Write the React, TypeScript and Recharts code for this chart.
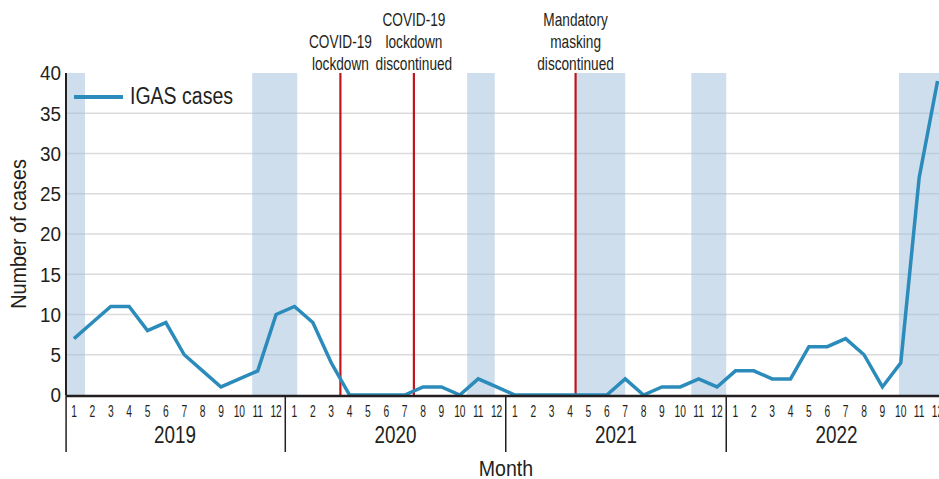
import { LineChart, Line, XAxis, YAxis, CartesianGrid, ReferenceArea, ReferenceLine, Legend } from "recharts";

const FONT = '"Liberation Sans", Arial, sans-serif';
const INK = "#231f20";
const LINE_COLOR = "#2b8bbb";
const EVENT_COLOR = "#c0151d";

const years = ["2019", "2020", "2021", "2022"];
const monthNums = [1, 2, 3, 4, 5, 6, 7, 8, 9, 10, 11, 12];
// IGAS cases per month, Jan 2019 .. Dec 2022
const cases = [
  7, 9, 11, 11, 8, 9, 5, 3, 1, 2, 3, 10,
  11, 9, 4, 0, 0, 0, 0, 1, 1, 0, 2, 1,
  0, 0, 0, 0, 0, 0, 2, 0, 1, 1, 2, 1,
  3, 3, 2, 2, 6, 6, 7, 5, 1, 4, 27, 39,
];
// shaded periods, in month-index units
const shadedStart = [-0.43, 9.7, 21.4, 27.3, 33.6, 44.9];
const shadedEnd = [0.6, 12.15, 22.9, 30.0, 35.5, 47.08];
const eventAt = [14.5, 18.5, 27.3];
const eventText = [
  ["COVID-19", "lockdown"],
  ["COVID-19", "lockdown", "discontinued"],
  ["Mandatory", "masking", "discontinued"],
];
const yTicks = [0, 5, 10, 15, 20, 25, 30, 35, 40];
const gridValues = [5, 10, 15, 20, 25, 30, 35];
const yearTicks = [5.5, 17.5, 29.5, 41.5];
const sepTicks = [-0.43, 11.5, 23.5, 35.5];
const xDomain = [-0.435, 47.08];

const data = cases.map((v, i) => ({ idx: i, cases: v }));
const monthTicks = data.map((d) => d.idx);

// condensed text: the reference uses a narrow Helvetica, so squeeze horizontally
const SText = ({ x, y, sx, size, anchor = "middle", dy, children }: any) => (
  <g transform={`translate(${x},${y}) scale(${sx},1)`}>
    <text x={0} y={0} dy={dy} textAnchor={anchor} fontFamily={FONT} fontSize={size} fill={INK}>{children}</text>
  </g>
);

const MonthTick = ({ x, y, payload }: any) => (
  <SText x={x} y={y} sx={0.64} size={16} dy="0.71em">{monthNums[payload.value % 12]}</SText>
);
const YearTick = ({ x, y, payload }: any) => (
  <SText x={x} y={y} sx={0.82} size={23} dy="0.71em">{years[Math.floor(payload.value / 12)]}</SText>
);
const ValueTick = ({ x, y, payload }: any) => (
  <SText x={x} y={y} sx={0.9} size={21} anchor="end" dy="0.355em">{payload.value}</SText>
);
const SepTick = ({ x, y }: any) => (
  <line x1={x} x2={x} y1={y} y2={y + 57} stroke={INK} strokeWidth={1.5} />
);

const EventLabel = (props: any) => {
  const { viewBox, lines } = props;
  if (!viewBox) return null;
  const base = viewBox.y - 3;
  return (
    <g>
      {lines.map((l: string, i: number) => (
        <SText key={i} x={viewBox.x} y={base - (lines.length - 1 - i) * 22} sx={0.78} size={17.5}>{l}</SText>
      ))}
    </g>
  );
};

const renderLegend = () => (
  <div style={{ display: "flex", alignItems: "center", fontFamily: FONT, fontSize: 23.5, color: INK }}>
    <span style={{ display: "inline-block", width: 49, height: 4, background: LINE_COLOR, marginRight: 7 }} />
    <span style={{ display: "inline-block", transform: "scaleX(0.83)", transformOrigin: "left center", whiteSpace: "nowrap" }}>IGAS cases</span>
  </div>
);

export default function App() {
  return (
    <div style={{ position: "absolute", left: 0, top: 0, width: 939, height: 479, overflow: "hidden", background: "#fff" }}>
      <LineChart width={939} height={479} data={data} margin={{ top: 73, right: 0, left: 0, bottom: 0 }}>
        <CartesianGrid xAxisId="b-month" horizontal vertical={false} horizontalValues={gridValues} stroke="rgba(0,0,0,0.14)" strokeWidth={1.5} />
        {shadedStart.map((s, i) => (
          <ReferenceArea key={i} xAxisId="b-month" x1={s} x2={shadedEnd[i]} y1={0} y2={40} fill="#9dbedc" fillOpacity={0.5} stroke="none" ifOverflow="hidden" />
        ))}
        <XAxis xAxisId="a-sep" dataKey="idx" type="number" domain={xDomain} allowDataOverflow ticks={sepTicks} interval={0}
          height={1} axisLine={false} tickSize={0} tickMargin={0} tickLine={false} tick={<SepTick />} />
        <XAxis xAxisId="b-month" dataKey="idx" type="number" domain={xDomain} allowDataOverflow ticks={monthTicks} interval={0}
          height={29} tickSize={0} tickMargin={10} tickLine={false} axisLine={{ stroke: INK, strokeWidth: 2.5 }}
          tick={<MonthTick />} />
        <XAxis xAxisId="c-year" dataKey="idx" type="number" domain={xDomain} allowDataOverflow ticks={yearTicks} interval={0}
          height={54} tickSize={0} tickMargin={2} tickLine={false} axisLine={false}
          tick={<YearTick />}
          label={({ viewBox }: any) => (
            <SText x={506} y={viewBox.y + viewBox.height - 3} sx={0.87} size={22.5}>Month</SText>
          )} />
        <YAxis domain={[0, 40]} ticks={yTicks} width={66} tickSize={0} tickMargin={5} tickLine={false}
          axisLine={{ stroke: INK, strokeWidth: 2 }} tick={<ValueTick />}
          label={({ viewBox }: any) => (
            <g transform={`translate(26, ${viewBox.y + viewBox.height / 2}) rotate(-90) scale(0.88,1)`}>
              <text x={0} y={0} textAnchor="middle" fontFamily={FONT} fontSize={22.5} fill={INK}>Number of cases</text>
            </g>
          )} />
        {eventAt.map((x, i) => (
          <ReferenceLine key={i} xAxisId="b-month" x={x} stroke={EVENT_COLOR} strokeWidth={2.2} label={<EventLabel lines={eventText[i]} />} />
        ))}
        <Legend layout="horizontal" verticalAlign="middle" align="center" content={renderLegend}
          wrapperStyle={{ top: 83, left: 74, width: "auto" }} />
        <Line xAxisId="b-month" type="linear" dataKey="cases" name="IGAS cases" stroke={LINE_COLOR} strokeWidth={3.5} dot={false} isAnimationActive={false} />
      </LineChart>
    </div>
  );
}
